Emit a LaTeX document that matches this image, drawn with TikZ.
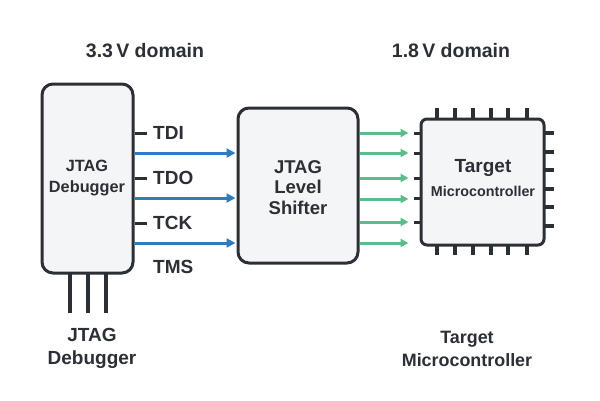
\documentclass[tikz,border=0pt]{standalone}
\usepackage{fontspec}
\setmainfont{Liberation Sans}
\usepackage{xcolor}
\usetikzlibrary{arrows.meta}
\definecolor{LineDark}{HTML}{2B2F36}
\definecolor{BoxFill}{HTML}{F4F5F7}
\definecolor{SigBlue}{HTML}{2F7BBF}
\definecolor{SigGreen}{HTML}{5BBB8A}
\tikzset{
  blockbox/.style={draw=LineDark, line width=3pt, fill=BoxFill, rounded corners=11pt, inner sep=0pt},
  stub/.style={draw=LineDark, line width=3pt},
  pin/.style={draw=LineDark, line width=3.5pt},
  bluesig/.style={draw=SigBlue, line width=3pt, -{Triangle[length=9pt,width=9pt]}},
  greensig/.style={draw=SigGreen, line width=3pt, -{Triangle[length=8pt,width=8pt]}},
  sigtext/.style={font=\bfseries\fontsize{19}{22}\selectfont, text=LineDark, anchor=west, inner sep=0pt},
}
\begin{document}
\begin{tikzpicture}[x=1pt,y=-1pt]%
\useasboundingbox[fill=white] (0,0) rectangle (600,400);%
% domain headings
\node[font=\bfseries\fontsize{19.5}{24}\selectfont, text=LineDark] (head33) at (145,51) {3.3\,V domain};%
\node[font=\bfseries\fontsize{19.5}{24}\selectfont, text=LineDark] (head18) at (451,51) {1.8\,V domain};%
% debugger
\draw[pin] (70,273) -- (70,313);%
\draw[pin] (88,273) -- (88,313);%
\draw[pin] (106,273) -- (106,313);%
\node[blockbox, minimum width=91pt, minimum height=189pt] (dbg) at (87.5,178.5) {};%
\node[font=\bfseries\fontsize{16.3}{21}\selectfont, text=LineDark, align=center] (dbgtext) at (87,178) {JTAG\\Debugger};%
\draw[stub] (dbg.east |- 0,133) -- ++(12,0);%
\draw[stub] (dbg.east |- 0,178) -- ++(12,0);%
\draw[stub] (dbg.east |- 0,223) -- ++(12,0);%
\node[sigtext] (tdi) at (153,133) {TDI};%
\node[sigtext] (tdo) at (153,178) {TDO};%
\node[sigtext] (tck) at (153,223) {TCK};%
\node[sigtext] (tms) at (153,267) {TMS};%
% level shifter
\node[blockbox, minimum width=120pt, minimum height=155pt] (ls) at (298,185.5) {};%
\node[font=\bfseries\fontsize{18.5}{20.5}\selectfont, text=LineDark, align=center] (lstext) at (298,187.5) {JTAG\\Level\\Shifter};%
\draw[bluesig] (dbg.east |- 0,153) -- ([xshift=-1pt]ls.west |- 0,153);%
\draw[bluesig] (dbg.east |- 0,198) -- ([xshift=-1pt]ls.west |- 0,198);%
\draw[bluesig] (dbg.east |- 0,243) -- ([xshift=-1pt]ls.west |- 0,243);%
% target microcontroller
\draw[pin] (437,108) -- (437,255);%
\draw[pin] (455,108) -- (455,255);%
\draw[pin] (473,108) -- (473,255);%
\draw[pin] (491,108) -- (491,255);%
\draw[pin] (508,108) -- (508,255);%
\draw[pin] (527,108) -- (527,255);%
\draw[pin] (530,133) -- (554,133);%
\draw[pin] (530,152) -- (554,152);%
\draw[pin] (530,170) -- (554,170);%
\draw[pin] (530,189) -- (554,189);%
\draw[pin] (530,207) -- (554,207);%
\draw[pin] (530,226) -- (554,226);%
\draw[stub] (414,133) -- (430,133);%
\draw[stub] (414,153) -- (430,153);%
\draw[stub] (414,178) -- (430,178);%
\draw[stub] (414,198) -- (430,198);%
\draw[stub] (414,222) -- (430,222);%
\node[blockbox, rounded corners=6pt, minimum width=123pt, minimum height=126pt] (mcu) at (482.5,182) {};%
\node[font=\bfseries\fontsize{19}{22}\selectfont, text=LineDark] (mcutitle) at (483,168) {Target};%
\node[font=\bfseries\fontsize{14.3}{18}\selectfont, text=LineDark] (mcusub) at (483,191) {Microcontroller};%
\draw[greensig] (ls.east |- 0,133) -- ([xshift=-11pt]mcu.west |- 0,133);%
\draw[greensig] (ls.east |- 0,153) -- ([xshift=-11pt]mcu.west |- 0,153);%
\draw[greensig] (ls.east |- 0,178) -- ([xshift=-11pt]mcu.west |- 0,178);%
\draw[greensig] (ls.east |- 0,199) -- ([xshift=-11pt]mcu.west |- 0,199);%
\draw[greensig] (ls.east |- 0,222) -- ([xshift=-11pt]mcu.west |- 0,222);%
\draw[greensig] (ls.east |- 0,243) -- ([xshift=-11pt]mcu.west |- 0,243);%
% captions below
\node[font=\bfseries\fontsize{19}{23}\selectfont, text=LineDark, align=center] (dbgcap) at (92,348.5) {JTAG\\Debugger};%
\node[font=\bfseries\fontsize{17.9}{23}\selectfont, text=LineDark, align=center] (mcucap) at (467,348.5) {Target\\Microcontroller};%
\end{tikzpicture}
\end{document}
